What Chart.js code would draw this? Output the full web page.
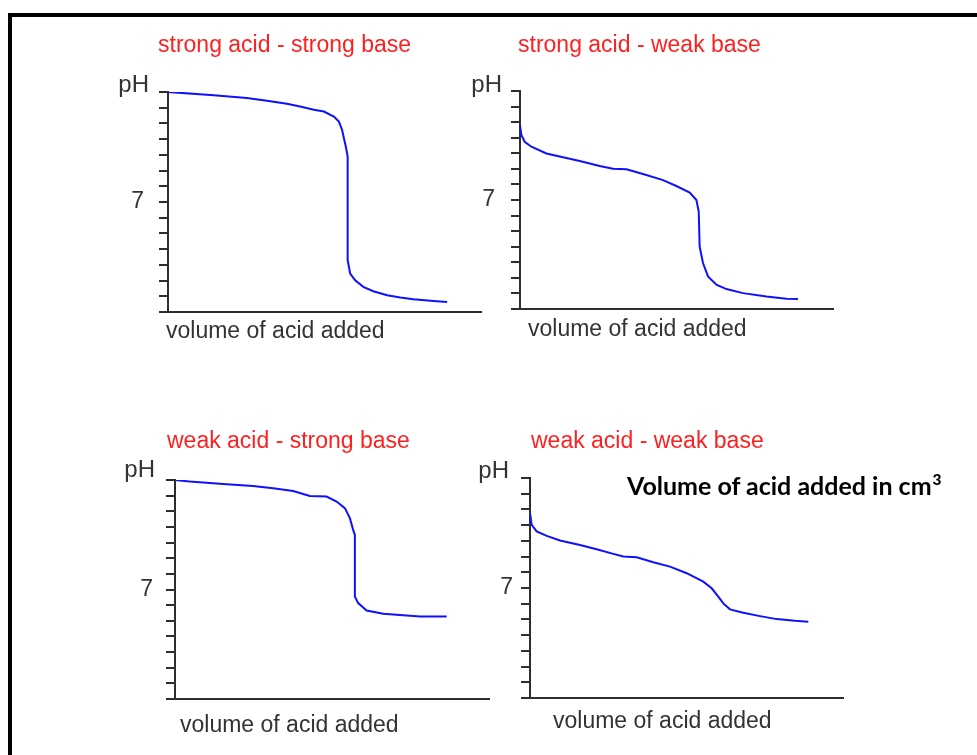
<!DOCTYPE html>
<html>
<head>
<meta charset="utf-8">
<script src="https://cdn.jsdelivr.net/npm/chart.js@4.4.1/dist/chart.umd.min.js"></script>
<style>
  html, body { margin: 0; padding: 0; background: #fff; width: 977px; height: 755px; overflow: hidden; }
  #frame { position: absolute; left: 8px; top: 13px; width: 1000px; height: 800px;
           border-top: 4px solid #000; border-left: 4px solid #000; box-sizing: border-box; }
  canvas { position: absolute; left: 0; top: 0; }
  #note { position: absolute; left: 627px; top: 470px; font: bold 25px Lato, "Open Sans", sans-serif;
          line-height: 30px; color: #000; white-space: nowrap; }
  #note .sup { position: relative; top: -0.62em; left: 1px; font-size: 0.62em; font-weight: 900; }
</style>
</head>
<body>
<div id="frame"></div>
<canvas id="c0" width="977" height="755"></canvas>
<canvas id="c1" width="977" height="755"></canvas>
<canvas id="c2" width="977" height="755"></canvas>
<canvas id="c3" width="977" height="755"></canvas>
<div id="note">Volume of acid added in cm<span class="sup">3</span></div>

<script>
// Panel titles and axis wording
const panelTitles = [
  'strong acid - strong base',
  'strong acid - weak base',
  'weak acid - strong base',
  'weak acid - weak base'
];
const xAxisCaption = 'volume of acid added';
const yAxisName = 'pH';
const pHRange = [0, 14];
const labelledPH = 7;

// Titration curves: volume added (arbitrary units, axis 0-50) vs pH
const saSbVolume = [0, 2.2, 7.3, 12.6, 15.8, 19.0, 21.1, 23.3, 24.9, 26.5, 27.3, 27.8, 28.4, 28.7, 28.7, 29.1, 29.9, 31.2, 32.8, 35.0, 37.1, 39.2, 42.4, 44.6];
const saSbPH     = [14.0, 13.94, 13.8, 13.62, 13.45, 13.25, 13.08, 12.87, 12.76, 12.44, 12.12, 11.6, 10.53, 9.89, 3.3, 2.45, 2.02, 1.6, 1.32, 1.07, 0.92, 0.81, 0.7, 0.64];

const saWbVolume = [0, 0.22, 0.75, 1.82, 4.22, 6.87, 9.54, 12.73, 14.86, 17.0, 20.19, 22.84, 24.98, 27.11, 28.18, 28.55, 28.7, 29.23, 30.03, 31.37, 32.97, 35.62, 39.36, 42.55, 44.4];
const saWbPH     = [11.8, 11.17, 10.74, 10.42, 9.99, 9.74, 9.5, 9.18, 9.01, 8.97, 8.6, 8.28, 7.9, 7.47, 7.0, 6.25, 4.01, 2.95, 2.09, 1.56, 1.28, 1.02, 0.81, 0.66, 0.64];

const waSbVolume = [0, 2.34, 7.65, 12.43, 15.62, 18.81, 21.47, 24.13, 25.73, 27.05, 27.85, 28.37, 28.64, 28.64, 29.17, 30.51, 33.16, 36.34, 39.0, 43.26];
const waSbPH     = [14.0, 13.9, 13.75, 13.62, 13.47, 13.3, 12.98, 12.94, 12.62, 12.2, 11.56, 10.81, 10.49, 6.55, 6.13, 5.66, 5.45, 5.36, 5.27, 5.27];

const waWbVolume = [0, 0.27, 1.07, 2.67, 4.79, 7.99, 10.65, 13.31, 14.9, 17.04, 19.7, 22.36, 25.03, 27.68, 29.02, 30.08, 30.88, 31.95, 34.07, 36.74, 39.41, 42.33, 44.46];
const waWbPH     = [11.77, 11.02, 10.6, 10.32, 10.02, 9.74, 9.47, 9.17, 9.0, 8.96, 8.64, 8.36, 7.94, 7.4, 6.98, 6.45, 6.02, 5.64, 5.42, 5.21, 5.02, 4.91, 4.85];

const volumeMax = 50;

// Where each panel's plot box sits on the page, plus text offsets from the axes
const layouts = [
  { vol: saSbVolume, ph: saSbPH, left: 168, right: 481, top: 92, bottom: 312,
    titleDX: -10, titleY: 52, capDX: -2, capDY: 26, phDX: -19, phDY: 0, tickPad: 15 },
  { vol: saWbVolume, ph: saWbPH, left: 520, right: 833, top: 91, bottom: 309,
    titleDX: -2, titleY: 52, capDX: 8, capDY: 27, phDX: -18, phDY: 1, tickPad: 16 },
  { vol: waSbVolume, ph: waSbPH, left: 175, right: 489, top: 480, bottom: 699,
    titleDX: -8, titleY: 448, capDX: 5, capDY: 33, phDX: -20, phDY: -3, tickPad: 13 },
  { vol: waWbVolume, ph: waWbPH, left: 530, right: 843, top: 478, bottom: 698,
    titleDX: 1, titleY: 448, capDX: 23, capDY: 30, phDX: -21, phDY: 0, tickPad: 8 }
];

const FONT = '"Liberation Sans", Arial, Helvetica, sans-serif';
const AXIS = '#2e2e2e';
const TEXT = '#333333';
const Y_AXIS_W = 60;

// Draws the panel heading, the axis caption and the "pH" name
const panelText = {
  id: 'panelText',
  afterDraw(chart, args, o) {
    const { ctx, chartArea: a } = chart;
    const y = chart.scales.y;
    ctx.save();
    ctx.textBaseline = 'alphabetic';
    ctx.textAlign = 'left';
    ctx.fillStyle = '#ff1f1f';
    ctx.font = '23px ' + FONT;
    ctx.fillText(o.title, a.left + o.titleDX, o.titleY);
    ctx.fillStyle = TEXT;
    ctx.fillText(xAxisCaption, a.left + o.capDX, a.bottom + o.capDY);
    ctx.textAlign = 'right';
    ctx.font = '24px ' + FONT;
    ctx.fillText(yAxisName, a.left + o.phDX, y.getPixelForValue(pHRange[1]) + o.phDY);
    ctx.restore();
  }
};

layouts.forEach((p, i) => {
  new Chart(document.getElementById('c' + i), {
    type: 'line',
    data: {
      datasets: [{
        data: p.vol.map((v, k) => ({ x: v, y: p.ph[k] })),
        borderColor: '#1010ff',
        borderWidth: 2,
        pointRadius: 0,
        tension: 0,
        fill: false
      }]
    },
    options: {
      responsive: false,
      animation: false,
      events: [],
      layout: {
        padding: { left: p.left - Y_AXIS_W, top: p.top, right: 977 - p.right, bottom: 755 - p.bottom }
      },
      plugins: {
        legend: { display: false },
        title: { display: false },
        tooltip: { enabled: false },
        panelText: { title: panelTitles[i], titleDX: p.titleDX, titleY: p.titleY,
                     capDX: p.capDX, capDY: p.capDY, phDX: p.phDX, phDY: p.phDY }
      },
      scales: {
        x: {
          type: 'linear', min: 0, max: volumeMax,
          grid: { display: false, drawTicks: false },
          border: { display: true, color: AXIS, width: 2 },
          ticks: { display: false },
          afterFit(s) { s.height = 0; }
        },
        y: {
          type: 'linear', min: pHRange[0], max: pHRange[1],
          grid: { display: true, drawOnChartArea: false, drawTicks: true, tickLength: 9,
                  color: AXIS, lineWidth: 2 },
          border: { display: true, color: AXIS, width: 2 },
          ticks: {
            stepSize: 1, autoSkip: false, padding: p.tickPad, color: TEXT,
            font: { family: FONT, size: 23 },
            callback: v => (v === labelledPH ? String(v) : '')
          },
          afterFit(s) { s.width = Y_AXIS_W; }
        }
      }
    },
    plugins: [panelText]
  });
});
</script>
</body>
</html>
